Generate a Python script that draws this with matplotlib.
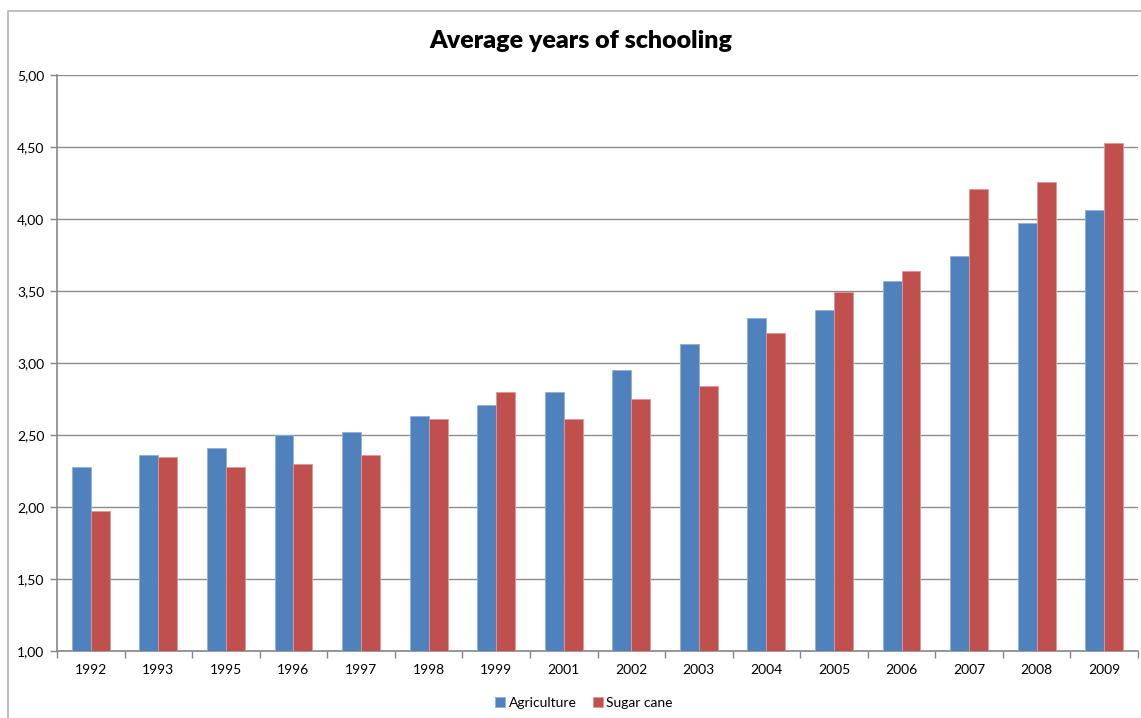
import numpy as np
import matplotlib.pyplot as plt
from matplotlib.patches import Rectangle

years = ['1992', '1993', '1995', '1996', '1997', '1998', '1999', '2001',
         '2002', '2003', '2004', '2005', '2006', '2007', '2008', '2009']
agriculture = [2.28, 2.36, 2.41, 2.50, 2.52, 2.63, 2.71, 2.80,
               2.95, 3.13, 3.31, 3.37, 3.57, 3.74, 3.97, 4.06]
sugar_cane = [1.97, 2.35, 2.28, 2.30, 2.36, 2.61, 2.80, 2.61,
              2.75, 2.84, 3.21, 3.49, 3.64, 4.21, 4.26, 4.53]
yticks = [1.0, 1.5, 2.0, 2.5, 3.0, 3.5, 4.0, 4.5, 5.0]

plt.rcParams['font.family'] = ['Lato', 'DejaVu Sans']

W, H = 1141, 718
fig = plt.figure(figsize=(W / 100, H / 100), dpi=100)
ax = fig.add_axes([57 / W, 1 - 651 / H, (1138 - 57) / W, (651 - 75) / H])

# chart area frame (runs off the right and bottom edges)
fig.patches.append(Rectangle((8 / W, -0.1), 1.2, 1 - 11 / H + 0.1,
                             transform=fig.transFigure, fill=False,
                             edgecolor='#b4b4b4', linewidth=1.2))

x = np.arange(len(years))
w = 0.28
ax.bar(x - w / 2, agriculture, w, bottom=0, color='#4F81BD',
       edgecolor='#8fb0d8', linewidth=0.6, label='Agriculture', zorder=3)
ax.bar(x + w / 2, sugar_cane, w, bottom=0, color='#C0504D',
       edgecolor='#dc9896', linewidth=0.6, label='Sugar cane', zorder=3)

ax.set_ylim(1.0, 5.0)
ax.set_xlim(-0.5, len(years) - 0.5)
ax.set_yticks(yticks)
ax.set_yticklabels([f'{v:.2f}'.replace('.', ',') for v in yticks])
ax.yaxis.grid(True, color='#8c8c8c', linewidth=1.0, zorder=0)

# category labels centred, tick marks between categories
ax.set_xticks(x)
ax.set_xticklabels(years)
ax.set_xticks(np.arange(-0.5, len(years)), minor=True)
ax.tick_params(axis='x', which='major', length=0, pad=9, labelsize=10)
ax.tick_params(axis='x', which='minor', length=5, color='#868686', width=1)
ax.tick_params(axis='y', length=5, color='#868686', width=1, labelsize=10, pad=4)

for side in ['top', 'right']:
    ax.spines[side].set_visible(False)
for side in ['left', 'bottom']:
    ax.spines[side].set_color('#868686')
    ax.spines[side].set_linewidth(1.2)

fig.text(581 / W, 1 - 41 / H, 'Average years of schooling', ha='center',
         va='center', fontsize=18, fontweight='heavy')

ax.legend(loc='center', bbox_to_anchor=(584 / W, 1 - 703 / H),
          bbox_transform=fig.transFigure, ncol=2, frameon=False,
          fontsize=10, handlelength=0.7, handleheight=0.7,
          handletextpad=0.25, columnspacing=1.2)

fig.savefig('out.png', dpi=100)
